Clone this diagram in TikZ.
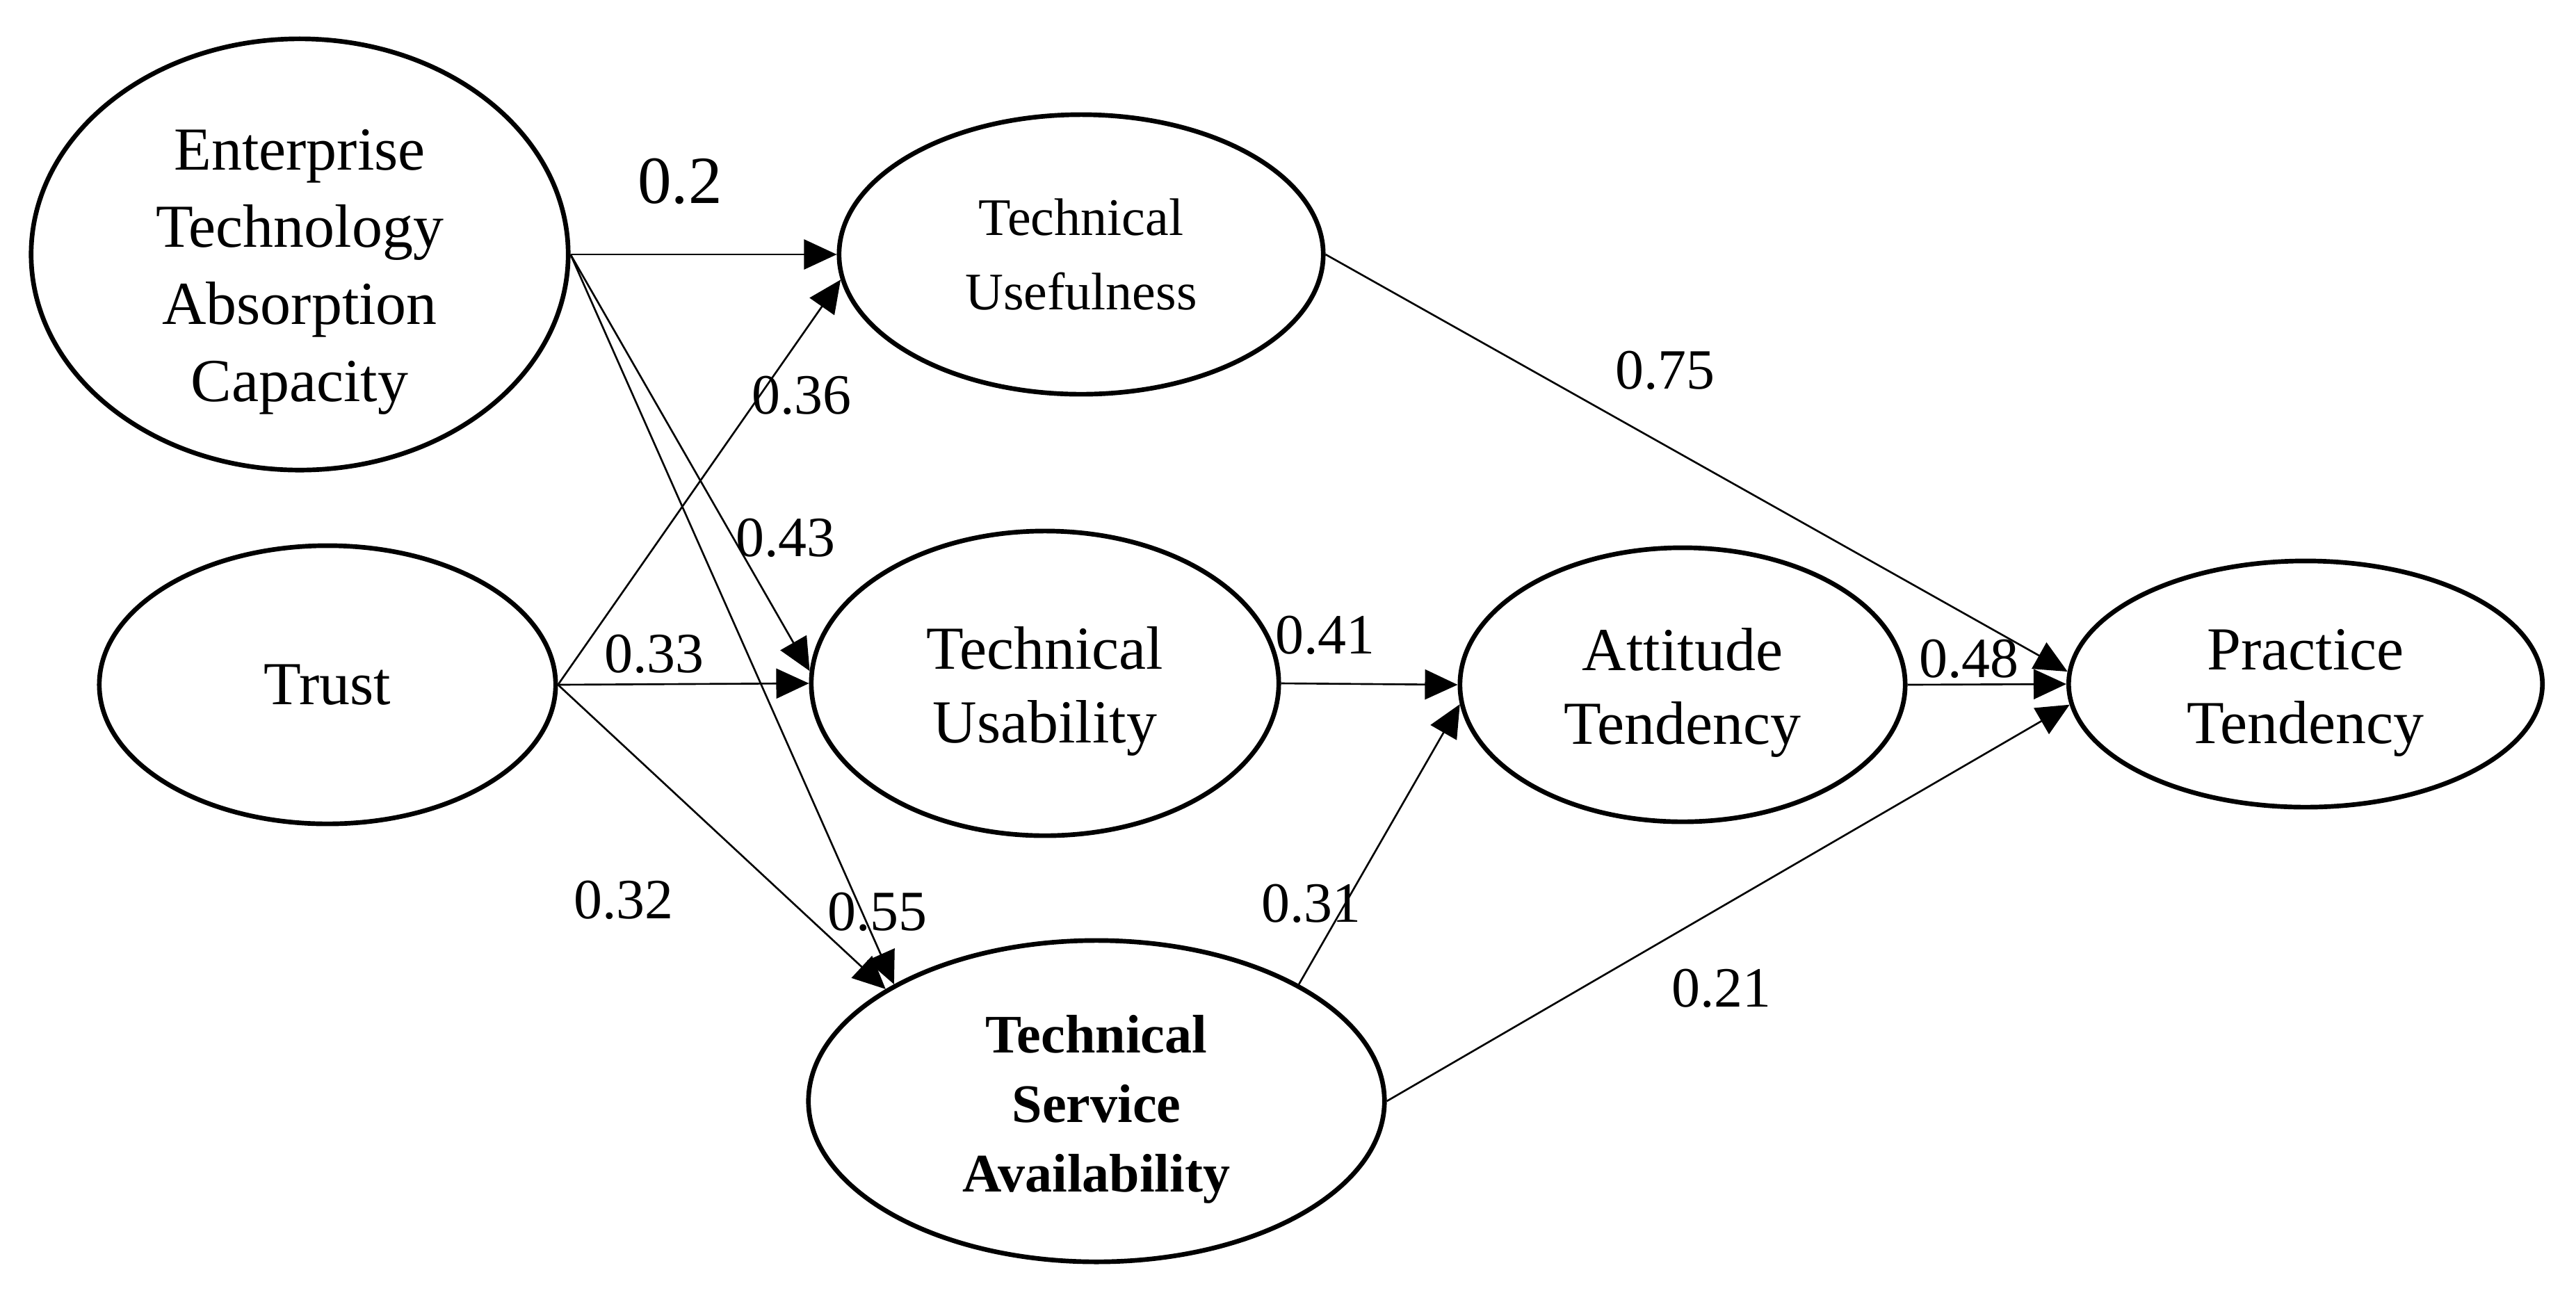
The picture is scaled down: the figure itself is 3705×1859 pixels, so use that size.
\documentclass[tikz,border=0pt]{standalone}
\usepackage{fontspec}
\setmainfont{Liberation Serif}
\usetikzlibrary{shapes.geometric,arrows.meta}
\newcommand{\mytopgap}[1]{\rule{0pt}{#1}}
\begin{document}
\begin{tikzpicture}[x=0.01cm,y=-0.01cm,
  latent/.style={draw,ellipse,line width=1.9pt,inner sep=0pt,align=center},
  pathto/.style={line width=0.75pt,-{Triangle[length=0.47cm,width=0.43cm]}},
  coef/.style={font=\fontsize{23.3}{28}\selectfont,inner sep=0pt}]
\useasboundingbox (0,0) rectangle (3705,1859);
\node[latent,inner ysep=-10pt,minimum width=7.72cm,minimum height=6.2cm,font=\fontsize{25}{31.5}\selectfont] (ent) at (431,366) {\mytopgap{31pt}Enterprise\\Technology\\Absorption\\Capacity};
\node[latent,minimum width=6.56cm,minimum height=4cm,font=\fontsize{25}{30}\selectfont] (tru) at (471,985) {Trust};
\node[latent,minimum width=6.96cm,minimum height=4.02cm,font=\fontsize{21.6}{30.2}\selectfont] (use) at (1555,366) {Technical\\Usefulness};
\node[latent,minimum width=6.72cm,minimum height=4.38cm,font=\fontsize{25}{30.2}\selectfont] (usa) at (1503,983) {\mytopgap{24pt}Technical\\Usability};
\node[latent,minimum width=8.28cm,minimum height=4.62cm,font=\bfseries\fontsize{22.2}{28.5}\selectfont] (tsa) at (1577,1584) {\mytopgap{22pt}Technical\\Service\\Availability};
\node[latent,minimum width=6.4cm,minimum height=3.94cm,font=\fontsize{25}{30.2}\selectfont] (att) at (2420,985) {\mytopgap{24pt}Attitude\\Tendency};
\node[latent,minimum width=6.81cm,minimum height=3.54cm,font=\fontsize{25}{30.2}\selectfont] (pra) at (3316,984) {\mytopgap{24pt}Practice\\Tendency};

\draw[pathto] (ent.east) -- (use.west);
\draw[pathto] (ent.east) -- (usa.177);
\draw[pathto] (ent.east) -- (tsa.150);
\draw[pathto] (tru.east) -- (use.186);
\draw[pathto] (tru.east) -- (usa.west);
\draw[pathto] (tru.east) -- (tsa.152);
\draw[pathto] (usa.east) -- (att.west);
\draw[pathto] (tsa.30) -- (att.185);
\draw[pathto] (use.east) -- (pra.177);
\draw[pathto] (att.east) -- (pra.west);
\draw[pathto] (tsa.east) -- (pra.185);

\node[coef,font=\fontsize{27.6}{30}\selectfont] (c1) at (978,261) {0.2};
\node[coef] (c2) at (1153,569) {0.36};
\node[coef] (c3) at (1130,774) {0.43};
\node[coef] (c4) at (941,941) {0.33};
\node[coef] (c5) at (897,1295) {0.32};
\node[coef] (c6) at (1262,1312) {0.55};
\node[coef] (c7) at (1906,914) {0.41};
\node[coef] (c8) at (1886,1300) {0.31};
\node[coef] (c9) at (2476,1422) {0.21};
\node[coef] (c10) at (2832,948) {0.48};
\node[coef] (c11) at (2395,533) {0.75};
\end{tikzpicture}
\end{document}
